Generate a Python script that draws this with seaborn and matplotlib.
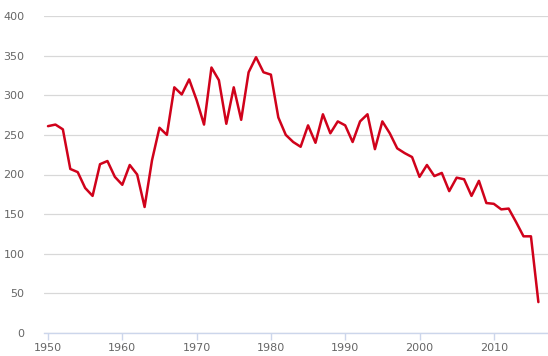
import matplotlib
matplotlib.use("Agg")
import matplotlib.pyplot as plt
import seaborn as sns
import pandas as pd

years = list(range(1950, 2017))
values = [261, 263, 257, 207, 203, 183, 173, 213, 217, 197,
          187, 212, 200, 159, 218, 259, 250, 310, 301, 320,
          294, 263, 335, 319, 264, 310, 269, 329, 348, 329,
          326, 272, 250, 241, 235, 262, 240, 276, 252, 267,
          262, 241, 267, 276, 232, 267, 252, 233, 227, 222,
          197, 212, 198, 202, 179, 196, 194, 173, 192, 164,
          163, 156, 157, 140, 122, 122, 39]
x_ticks = [1950, 1960, 1970, 1980, 1990, 2000, 2010]
y_ticks = [0, 50, 100, 150, 200, 250, 300, 350, 400]

df = pd.DataFrame({"year": years, "value": values})

sns.set_style("white")
plt.rcParams['font.family'] = ['DejaVu Sans']

W, H = 548, 356
fig = plt.figure(figsize=(W / 100, H / 100), dpi=100)
ax = fig.add_axes([44 / W, (H - 333) / H, (W - 44) / W, (333 - 16) / H])

sns.lineplot(data=df, x="year", y="value", ax=ax, color="#d0021b", linewidth=1.8)

ax.set_xlim(1950 - 4 / 7.43, 1950 + (W - 48) / 7.43)
ax.set_ylim(0, 400)
ax.set_xticks(x_ticks)
ax.set_yticks(y_ticks)
ax.set_xticklabels([str(t) for t in x_ticks])
ax.set_yticklabels([str(t) for t in y_ticks])
ax.set_xlabel("")
ax.set_ylabel("")

ax.yaxis.grid(True, color="#d8d8d8", linewidth=0.9)
ax.xaxis.grid(False)
ax.set_axisbelow(True)
for s in ["top", "right", "left"]:
    ax.spines[s].set_visible(False)
ax.spines["bottom"].set_color("#ccd6eb")
ax.spines["bottom"].set_linewidth(1)

ax.tick_params(axis="x", bottom=True, colors="#ccd6eb", length=5, width=1, direction="out",
               labelcolor="#666666", labelsize=8, pad=2)
ax.tick_params(axis="y", left=False, length=0, labelcolor="#666666", labelsize=8, pad=14)

fig.savefig("out.png", dpi=100, facecolor="white")
